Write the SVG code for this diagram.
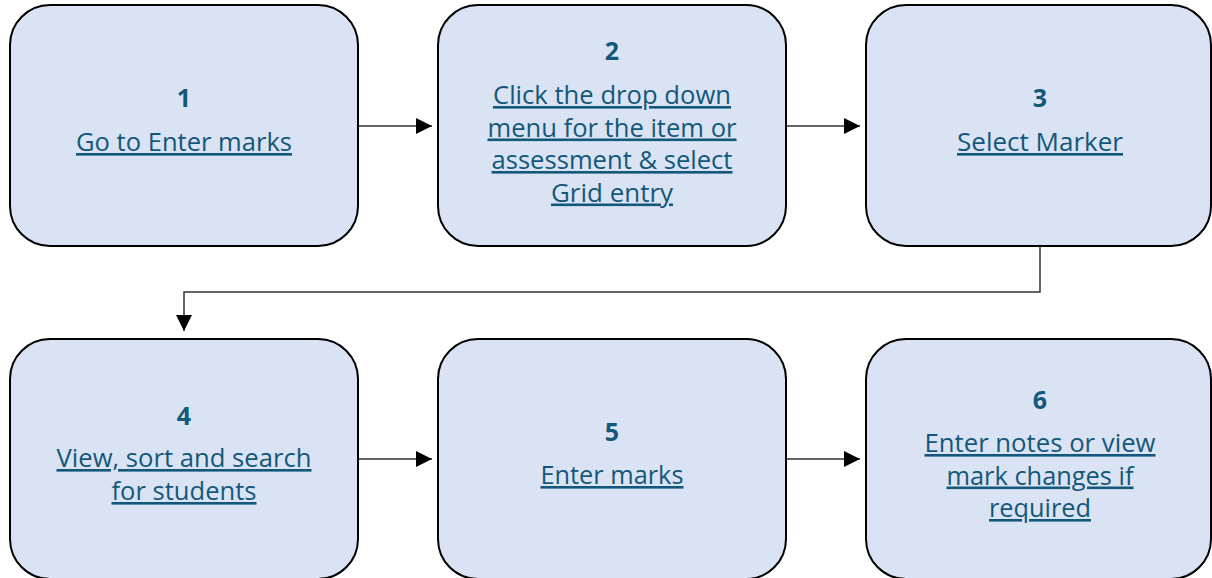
<svg xmlns="http://www.w3.org/2000/svg" width="1212" height="578" viewBox="0 0 1212 578">
  <style>
    .box { fill: #DAE3F3; stroke: #000; stroke-width: 2; }
    .num { font-family: "Open Sans", "Liberation Sans", sans-serif; font-size: 25px; font-weight: bold; fill: #13587A; text-anchor: middle; }
    .lbl { font-family: "Open Sans", "Liberation Sans", sans-serif; font-size: 26px; fill: #13587A; text-anchor: middle; text-decoration: underline; }
    .conn { fill: none; stroke: #333; stroke-width: 1.5; }
  </style>
  <defs>
    <marker id="arrow" markerUnits="userSpaceOnUse" markerWidth="16" markerHeight="16" refX="16" refY="8" orient="auto">
      <path d="M0,0 L16,8 L0,16 Z" fill="#000"/>
    </marker>
  </defs>

  <g id="connectors">
    <line class="conn" x1="358" y1="126" x2="432" y2="126" marker-end="url(#arrow)"/>
    <line class="conn" x1="786" y1="126" x2="860" y2="126" marker-end="url(#arrow)"/>
    <polyline class="conn" points="1040,246 1040,292 184,292 184,331" marker-end="url(#arrow)"/>
    <line class="conn" x1="358" y1="459" x2="432" y2="459" marker-end="url(#arrow)"/>
    <line class="conn" x1="786" y1="459" x2="860" y2="459" marker-end="url(#arrow)"/>
  </g>

  <g id="step1">
    <rect class="box" x="10" y="5" width="348" height="241" rx="40"/>
    <text class="num" x="184" y="107">1</text>
    <text class="lbl" x="184" y="151" textLength="216" lengthAdjust="spacingAndGlyphs">Go to Enter marks</text>
  </g>

  <g id="step2">
    <rect class="box" x="438" y="5" width="348" height="241" rx="40"/>
    <text class="num" x="612" y="60">2</text>
    <text class="lbl" x="612" y="104" textLength="238" lengthAdjust="spacingAndGlyphs">Click the drop down</text>
    <text class="lbl" x="612" y="136.5" textLength="249" lengthAdjust="spacingAndGlyphs">menu for the item or</text>
    <text class="lbl" x="612" y="169" textLength="241" lengthAdjust="spacingAndGlyphs">assessment &amp; select</text>
    <text class="lbl" x="612" y="201.5" textLength="122" lengthAdjust="spacingAndGlyphs">Grid entry</text>
  </g>

  <g id="step3">
    <rect class="box" x="866" y="5" width="345" height="241" rx="40"/>
    <text class="num" x="1040" y="107">3</text>
    <text class="lbl" x="1040" y="151" textLength="166" lengthAdjust="spacingAndGlyphs">Select Marker</text>
  </g>

  <g id="step4">
    <rect class="box" x="10" y="339" width="348" height="240" rx="40"/>
    <text class="num" x="184" y="425">4</text>
    <text class="lbl" x="184" y="467" textLength="255" lengthAdjust="spacingAndGlyphs">View, sort and search</text>
    <text class="lbl" x="184" y="500" textLength="145" lengthAdjust="spacingAndGlyphs">for students</text>
  </g>

  <g id="step5">
    <rect class="box" x="438" y="339" width="348" height="240" rx="40"/>
    <text class="num" x="612" y="441">5</text>
    <text class="lbl" x="612" y="484" textLength="143" lengthAdjust="spacingAndGlyphs">Enter marks</text>
  </g>

  <g id="step6">
    <rect class="box" x="866" y="339" width="345" height="240" rx="40"/>
    <text class="num" x="1040" y="409">6</text>
    <text class="lbl" x="1040" y="452" textLength="231" lengthAdjust="spacingAndGlyphs">Enter notes or view</text>
    <text class="lbl" x="1040" y="484.5" textLength="187" lengthAdjust="spacingAndGlyphs">mark changes if</text>
    <text class="lbl" x="1040" y="517" textLength="102" lengthAdjust="spacingAndGlyphs">required</text>
  </g>
</svg>
